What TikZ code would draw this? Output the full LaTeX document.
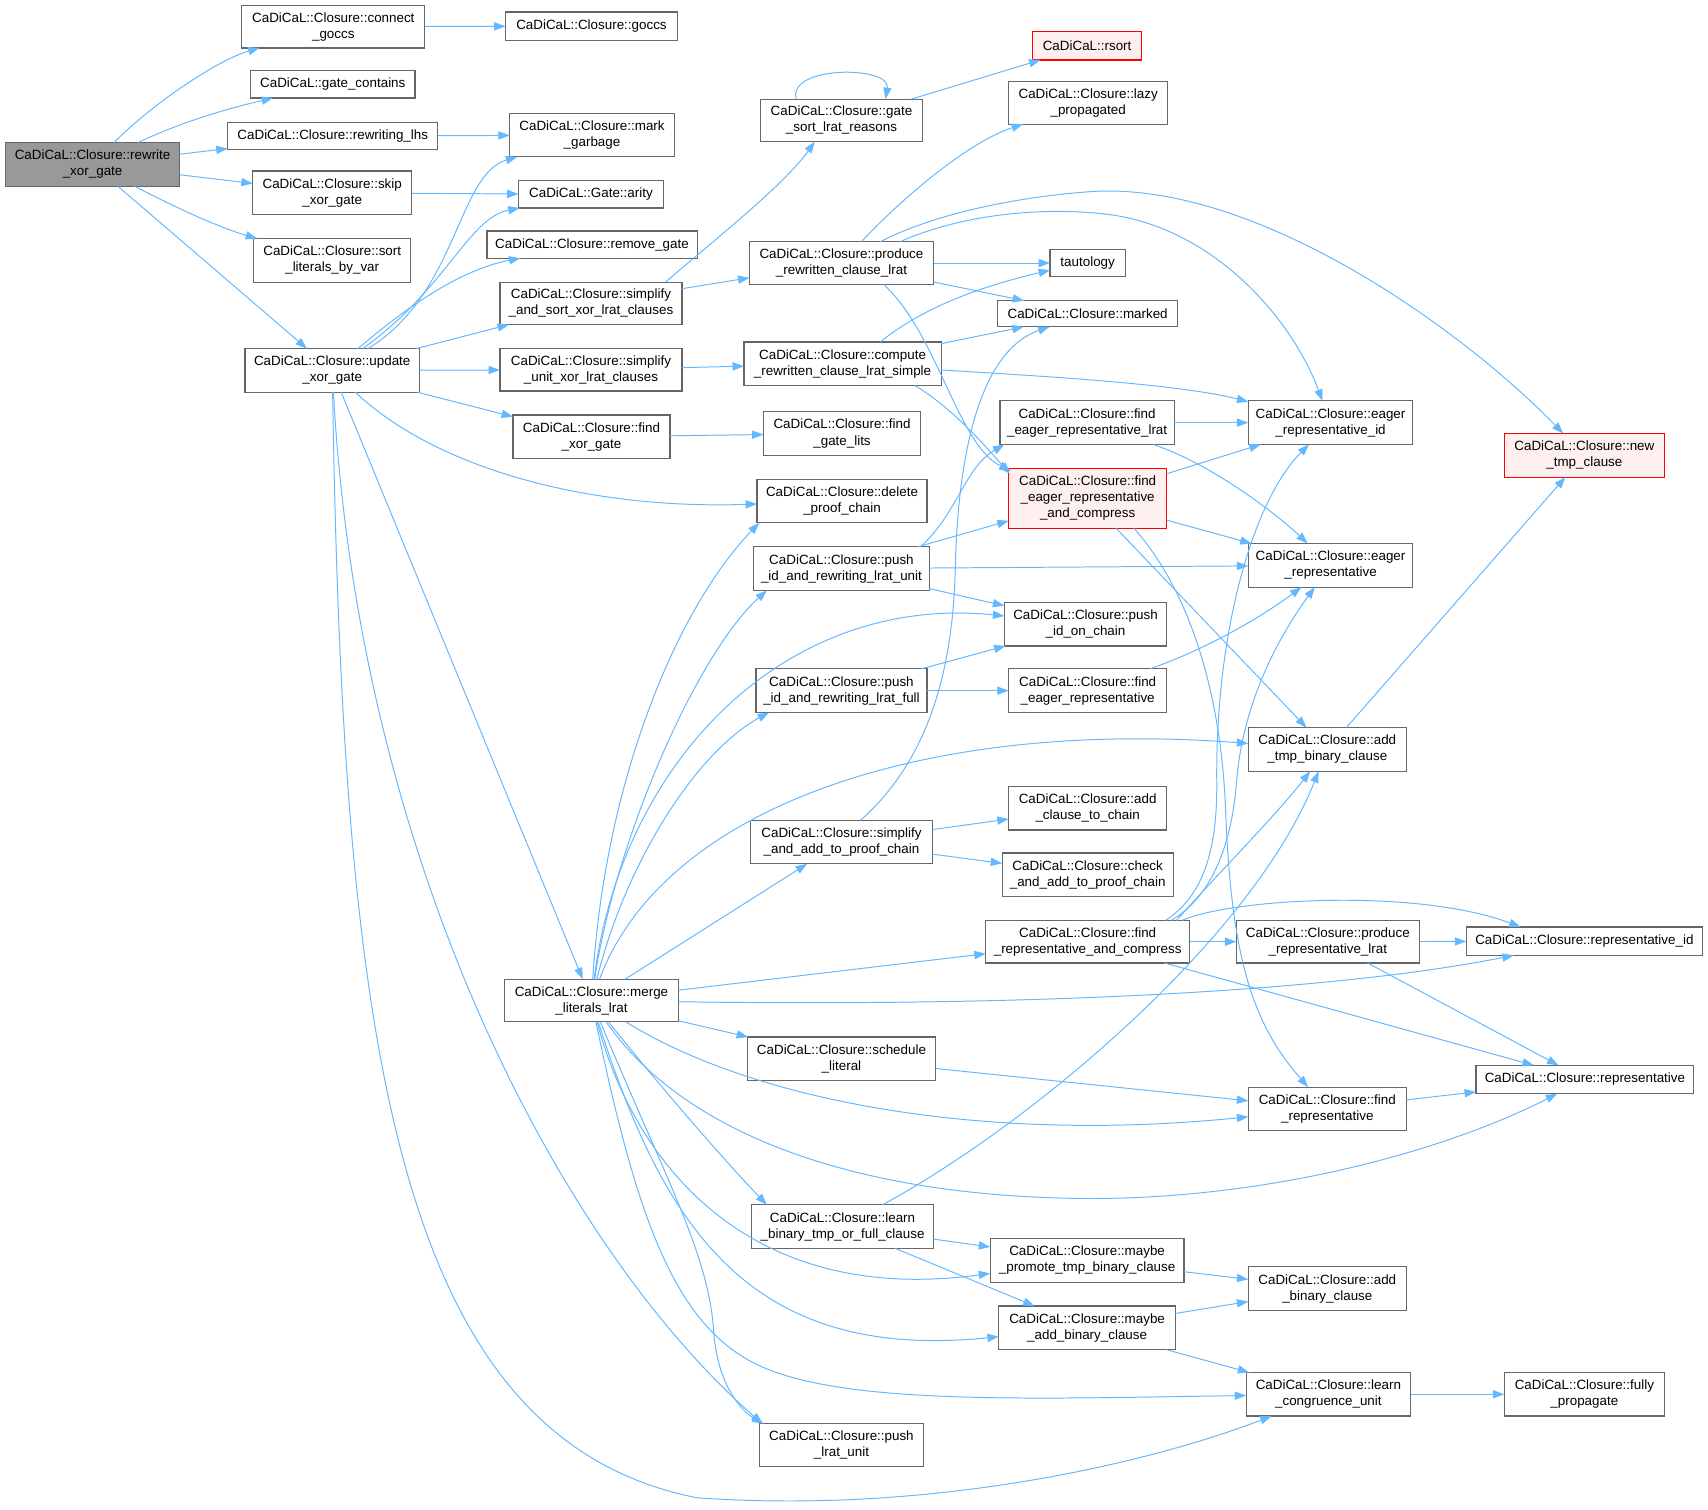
\documentclass[tikz,border=0pt]{standalone}
\usepackage{fontspec}
\setmainfont{Liberation Sans}
\usetikzlibrary{arrows.meta}
\definecolor{edgeblue}{HTML}{63B8FF}
\definecolor{boxgray}{HTML}{666666}
\definecolor{rootfill}{HTML}{999999}
\definecolor{redfill}{HTML}{FFF0F0}
\definecolor{redborder}{HTML}{FF0000}
\tikzset{
  box/.style={draw=boxgray, line width=1.1pt, fill=white, inner sep=0pt, outer sep=0pt, align=center, font=\fontsize{12.3}{14.7}\selectfont},
  rootbox/.style={box, fill=rootfill},
  redbox/.style={box, draw=redborder, fill=redfill},
  edge/.style={draw=edgeblue, line width=0.9pt, -{Triangle[length=10.5pt,width=7.5pt]}},
}
\begin{document}
\begin{tikzpicture}[x=1pt,y=-1pt]
\useasboundingbox (0,0) rectangle (1568,1386);
\fill[white] (0,0) rectangle (1568,1386);
% nodes
\node[rootbox, minimum width=160pt, minimum height=40pt] (rx) at (85,151) {CaDiCaL::Closure::rewrite\\\_xor\_gate};
\node[box, minimum width=168pt, minimum height=39pt] (cg) at (306,24.5) {CaDiCaL::Closure::connect\\\_goccs};
\node[box, minimum width=158pt, minimum height=26pt] (goccs) at (543,24) {CaDiCaL::Closure::goccs};
\node[box, minimum width=151pt, minimum height=25pt] (gc) at (305.5,77.5) {CaDiCaL::gate\_contains};
\node[box, minimum width=193pt, minimum height=25pt] (rl) at (305.5,125) {CaDiCaL::Closure::rewriting\_lhs};
\node[box, minimum width=151pt, minimum height=40pt] (mg) at (543.5,124) {CaDiCaL::Closure::mark\\\_garbage};
\node[box, minimum width=146pt, minimum height=40pt] (sx) at (305,177) {CaDiCaL::Closure::skip\\\_xor\_gate};
\node[box, minimum width=133pt, minimum height=25pt] (ar) at (542.5,178.5) {CaDiCaL::Gate::arity};
\node[box, minimum width=144pt, minimum height=40pt] (sl) at (305,239) {CaDiCaL::Closure::sort\\\_literals\_by\_var};
\node[box, minimum width=193pt, minimum height=25pt] (rg) at (543.5,224.5) {CaDiCaL::Closure::remove\_gate};
\node[box, minimum width=160pt, minimum height=40pt] (ux) at (305,340) {CaDiCaL::Closure::update\\\_xor\_gate};
\node[box, minimum width=167pt, minimum height=39pt] (ss) at (542.5,278.5) {CaDiCaL::Closure::simplify\\\_and\_sort\_xor\_lrat\_clauses};
\node[box, minimum width=167pt, minimum height=39pt] (su) at (542.5,339.5) {CaDiCaL::Closure::simplify\\\_unit\_xor\_lrat\_clauses};
\node[box, minimum width=144pt, minimum height=40pt] (fx) at (543,401) {CaDiCaL::Closure::find\\\_xor\_gate};
\node[box, minimum width=149pt, minimum height=39pt] (gs) at (772.5,110.5) {CaDiCaL::Closure::gate\\\_sort\_lrat\_reasons};
\node[redbox, minimum width=100pt, minimum height=26pt] (rsort) at (998,42) {CaDiCaL::rsort};
\node[box, minimum width=146pt, minimum height=39pt] (lp) at (999,94.5) {CaDiCaL::Closure::lazy\\\_propagated};
\node[box, minimum width=169pt, minimum height=39pt] (pr) at (772.5,241.5) {CaDiCaL::Closure::produce\\\_rewritten\_clause\_lrat};
\node[box, minimum width=69pt, minimum height=25pt] (taut) at (998.5,241.5) {tautology};
\node[box, minimum width=165pt, minimum height=24pt] (mk) at (998.5,288) {CaDiCaL::Closure::marked};
\node[box, minimum width=181pt, minimum height=40pt] (cr) at (773.5,334) {CaDiCaL::Closure::compute\\\_rewritten\_clause\_lrat\_simple};
\node[box, minimum width=144pt, minimum height=40pt] (fgl) at (773,398) {CaDiCaL::Closure::find\\\_gate\_lits};
\node[box, minimum width=156pt, minimum height=40pt] (dpc) at (773,460) {CaDiCaL::Closure::delete\\\_proof\_chain};
\node[box, minimum width=160pt, minimum height=40pt] (ferl) at (998,388) {CaDiCaL::Closure::find\\\_eager\_representative\_lrat};
\node[redbox, minimum width=145pt, minimum height=55pt] (ferc) at (998.5,457.5) {CaDiCaL::Closure::find\\\_eager\_representative\\\_and\_compress};
\node[box, minimum width=151pt, minimum height=40pt] (eri) at (1221.5,388) {CaDiCaL::Closure::eager\\\_representative\_id};
\node[redbox, minimum width=147pt, minimum height=40pt] (ntc) at (1454.5,418) {CaDiCaL::Closure::new\\\_tmp\_clause};
\node[box, minimum width=161pt, minimum height=40pt] (pu) at (772.5,522) {CaDiCaL::Closure::push\\\_id\_and\_rewriting\_lrat\_unit};
\node[box, minimum width=151pt, minimum height=40pt] (er) at (1221.5,519) {CaDiCaL::Closure::eager\\\_representative};
\node[box, minimum width=149pt, minimum height=40pt] (pc) at (996.5,573) {CaDiCaL::Closure::push\\\_id\_on\_chain};
\node[box, minimum width=157pt, minimum height=40pt] (pf) at (772.5,634) {CaDiCaL::Closure::push\\\_id\_and\_rewriting\_lrat\_full};
\node[box, minimum width=145pt, minimum height=40pt] (fer) at (998.5,634) {CaDiCaL::Closure::find\\\_eager\_representative};
\node[box, minimum width=145pt, minimum height=40pt] (atb) at (1218.5,688) {CaDiCaL::Closure::add\\\_tmp\_binary\_clause};
\node[box, minimum width=145pt, minimum height=40pt] (acc) at (998.5,742) {CaDiCaL::Closure::add\\\_clause\_to\_chain};
\node[box, minimum width=167pt, minimum height=40pt] (sa) at (772.5,773) {CaDiCaL::Closure::simplify\\\_and\_add\_to\_proof\_chain};
\node[box, minimum width=157pt, minimum height=40pt] (cap) at (998.5,803) {CaDiCaL::Closure::check\\\_and\_add\_to\_proof\_chain};
\node[box, minimum width=187pt, minimum height=39pt] (frc) at (998.5,864.5) {CaDiCaL::Closure::find\\\_representative\_and\_compress};
\node[box, minimum width=168pt, minimum height=39pt] (prl) at (1219,864.5) {CaDiCaL::Closure::produce\\\_representative\_lrat};
\node[box, minimum width=217pt, minimum height=26pt] (ri) at (1454.5,864) {CaDiCaL::Closure::representative\_id};
\node[box, minimum width=160pt, minimum height=39pt] (ml) at (543,918.5) {CaDiCaL::Closure::merge\\\_literals\_lrat};
\node[box, minimum width=173pt, minimum height=40pt] (sch) at (772.5,972) {CaDiCaL::Closure::schedule\\\_literal};
\node[box, minimum width=145pt, minimum height=40pt] (fr) at (1218.5,1018) {CaDiCaL::Closure::find\\\_representative};
\node[box, minimum width=200pt, minimum height=26pt] (rep) at (1455,991) {CaDiCaL::Closure::representative};
\node[box, minimum width=167pt, minimum height=40pt] (lb) at (773.5,1126) {CaDiCaL::Closure::learn\\\_binary\_tmp\_or\_full\_clause};
\node[box, minimum width=178pt, minimum height=40pt] (mp) at (998,1157) {CaDiCaL::Closure::maybe\\\_promote\_tmp\_binary\_clause};
\node[box, minimum width=145pt, minimum height=40pt] (abc) at (1218.5,1183) {CaDiCaL::Closure::add\\\_binary\_clause};
\node[box, minimum width=162pt, minimum height=40pt] (mab) at (998,1219) {CaDiCaL::Closure::maybe\\\_add\_binary\_clause};
\node[box, minimum width=151pt, minimum height=40pt] (lcu) at (1219.5,1280) {CaDiCaL::Closure::learn\\\_congruence\_unit};
\node[box, minimum width=147pt, minimum height=40pt] (fp) at (1454.5,1280) {CaDiCaL::Closure::fully\\\_propagate};
\node[box, minimum width=151pt, minimum height=39pt] (plu) at (772.5,1326.5) {CaDiCaL::Closure::push\\\_lrat\_unit};
% edges from rewrite_xor_gate
\draw[edge] (rx) .. controls (140,95) and (200,55) .. (cg);
\draw[edge] (rx) .. controls (170,110) and (220,97) .. (gc);
\draw[edge] (rx) -- (rl);
\draw[edge] (rx) -- (sx);
\draw[edge] (rx) .. controls (170,195) and (205,210) .. (sl);
\draw[edge] (rx) -- (ux);
\draw[edge] (cg) -- (goccs);
\draw[edge] (rl) -- (mg);
\draw[edge] (sx) -- (ar);
% update_xor_gate
\draw[edge] (ux) .. controls (420,270) and (420,160) .. (mg);
\draw[edge] (ux) .. controls (410,265) and (430,200) .. (ar);
\draw[edge] (ux) .. controls (370,285) and (420,248) .. (rg);
\draw[edge] (ux) -- (ss);
\draw[edge] (ux) -- (su);
\draw[edge] (ux) -- (fx);
\draw[edge] (ux) .. controls (400,430) and (540,468) .. (dpc);
\draw[edge] (ux) -- (ml);
\draw[edge] (ux) .. controls (330,800) and (520,1150) .. ([xshift=3pt]plu.north west);
\draw[edge] (ux) .. controls (315,950) and (360,1320) .. (640,1375) .. controls (850,1390) and (1050,1345) .. (lcu);
% simplify / find xor
\draw[edge] ([xshift=-15pt]ss.north east) .. controls (650,225) and (720,170) .. ([xshift=50pt]gs.south west);
\draw[edge] (ss) -- (pr);
\draw[edge] (su) -- (cr);
\draw[edge] (fx) -- (fgl);
% gate_sort_lrat_reasons
\draw[edge] ([xshift=33pt]gs.north west) .. controls (722,60) and (818,60) .. ([xshift=115pt]gs.north west);
\draw[edge] (gs) -- (rsort);
% produce_rewritten_clause_lrat
\draw[edge] (pr) .. controls (830,180) and (890,130) .. (lp);
\draw[edge] ([xshift=120pt]pr.north west) .. controls (850,200) and (920,182) .. (1000,176) .. controls (1150,165) and (1340,300) .. (ntc);
\draw[edge] ([xshift=138pt]pr.north west) .. controls (880,198) and (950,190) .. (1010,196) .. controls (1110,205) and (1185,290) .. (eri);
\draw[edge] (pr) -- (taut);
\draw[edge] (pr) -- (mk);
\draw[edge] ([xshift=123pt]pr.south west) .. controls (860,305) and (880,410) .. ([xshift=2pt,yshift=-2pt]ferc.north west);
% compute_rewritten_clause_lrat_simple
\draw[edge] ([xshift=125pt]cr.north west) .. controls (850,280) and (905,262) .. ([yshift=-19pt]taut.north west);
\draw[edge] (cr) -- (mk);
\draw[edge] (cr) .. controls (950,345) and (1080,352) .. (eri);
\draw[edge] ([xshift=157pt]cr.south west) .. controls (875,375) and (905,410) .. ([xshift=1pt,yshift=-5pt]ferc.north west);
% find_eager_representative_lrat / and_compress
\draw[edge] (ferl) -- (eri);
\draw[edge] (ferl) .. controls (1110,425) and (1170,470) .. (er);
\draw[edge] (ferc) -- (eri);
\draw[edge] (ferc) -- (er);
\draw[edge] (ferc) -- (atb);
\draw[edge] ([xshift=115pt]ferc.south west) .. controls (1090,540) and (1120,630) .. (1125,740) .. controls (1130,880) and (1150,940) .. (fr);
% push_id_and_rewriting_lrat_unit / full
\draw[edge] ([xshift=-8pt]pu.north east) .. controls (880,470) and (885,430) .. ([xshift=4pt]ferl.south west);
\draw[edge] (pu) -- (ferc);
\draw[edge] (pu) -- (er);
\draw[edge] (pu) -- (pc);
\draw[edge] (pf) -- (pc);
\draw[edge] (pf) -- (fer);
\draw[edge] (fer) .. controls (1110,595) and (1160,565) .. (er);
\draw[edge] (atb) -- (ntc);
% simplify_and_add_to_proof_chain
\draw[edge] ([xshift=101pt]sa.north west) .. controls (850,700) and (875,620) .. (877,520) .. controls (880,400) and (905,320) .. (mk);
\draw[edge] (sa) -- (acc);
\draw[edge] (sa) -- (cap);
% find_representative_and_compress
\draw[edge] ([xshift=165pt]frc.north west) .. controls (1100,825) and (1118,790) .. (1117,716) .. controls (1116,580) and (1150,460) .. (eri);
\draw[edge] ([xshift=170pt]frc.north west) .. controls (1110,825) and (1130,780) .. (1135,720) .. controls (1140,650) and (1170,590) .. (er);
\draw[edge] ([xshift=175pt]frc.north west) .. controls (1120,800) and (1170,750) .. (atb);
\draw[edge] ([xshift=180pt]frc.north west) .. controls (1130,825) and (1300,815) .. ([xshift=50pt]ri.north west);
\draw[edge] (frc) -- (prl);
\draw[edge] (frc) -- (rep);
\draw[edge] (prl) -- (ri);
\draw[edge] (prl) -- (rep);
% merge_literals_lrat
\draw[edge] (ml) .. controls (555,720) and (620,560) .. ([xshift=2pt]dpc.south west);
\draw[edge] (ml) .. controls (565,770) and (640,600) .. ([xshift=12pt]pu.south west);
\draw[edge] (ml) .. controls (570,700) and (720,545) .. (pc);
\draw[edge] (ml) .. controls (575,790) and (640,690) .. ([xshift=12pt]pf.south west);
\draw[edge] (ml) .. controls (610,740) and (850,660) .. (atb);
\draw[edge] (ml) -- (sa);
\draw[edge] (ml) -- (frc);
\draw[edge] (ml) .. controls (1000,925) and (1250,905) .. (ri);
\draw[edge] (ml) -- (sch);
\draw[edge] (ml) .. controls (690,1010) and (900,1050) .. (fr);
\draw[edge] (ml) .. controls (620,1030) and (760,1095) .. (980,1100) .. controls (1150,1104) and (1320,1060) .. (rep);
\draw[edge] (ml) .. controls (600,990) and (660,1060) .. ([xshift=14pt]lb.north west);
\draw[edge] (ml) .. controls (580,1060) and (680,1200) .. (mp);
\draw[edge] (ml) .. controls (610,1130) and (690,1250) .. (mab);
\draw[edge] (ml) .. controls (585,1120) and (620,1220) .. (700,1255) .. controls (780,1290) and (950,1284) .. (lcu);
\draw[edge] (ml) .. controls (610,1080) and (650,1150) .. (655,1220) .. controls (658,1270) and (680,1295) .. ([xshift=4pt]plu.north west);
% learn_binary_tmp_or_full_clause and the rest
\draw[edge] (lb) .. controls (950,1030) and (1150,860) .. (atb);
\draw[edge] (lb) -- (mp);
\draw[edge] (lb) -- (mab);
\draw[edge] (sch) -- (fr);
\draw[edge] (fr) -- (rep);
\draw[edge] (mp) -- (abc);
\draw[edge] (mab) -- (abc);
\draw[edge] (mab) -- (lcu);
\draw[edge] (lcu) -- (fp);
\end{tikzpicture}
\end{document}
